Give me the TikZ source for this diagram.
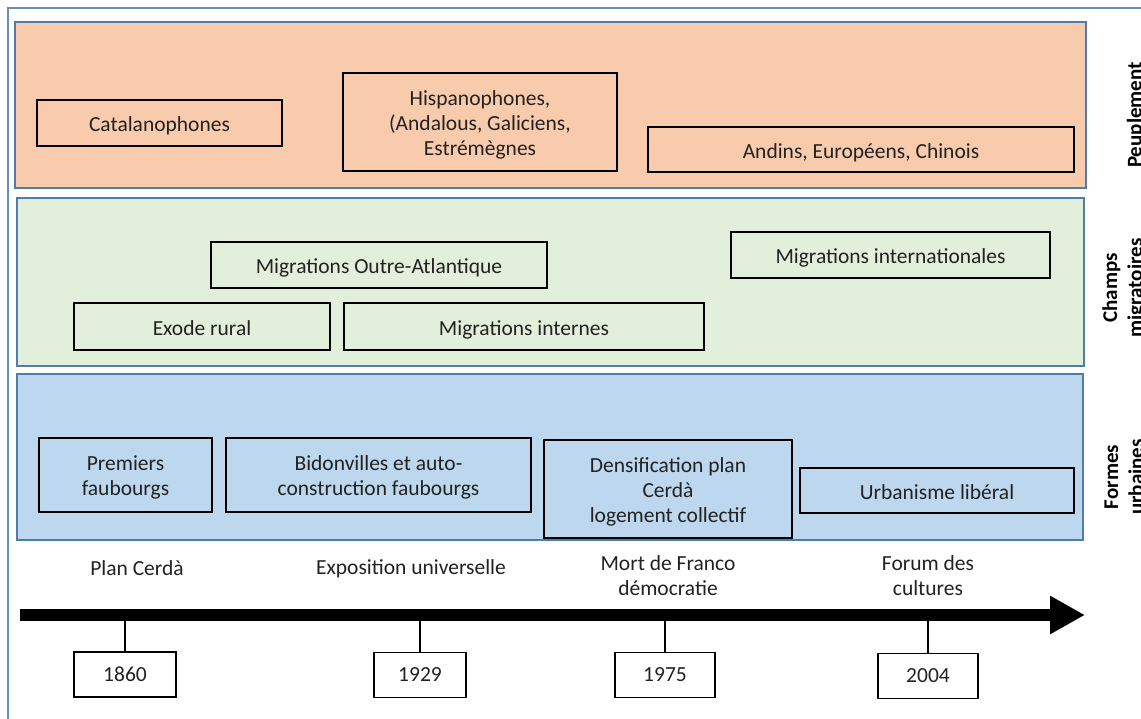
\documentclass[tikz,border=0pt]{standalone}
\usepackage{fontspec}
\setmainfont{Carlito}
\usetikzlibrary{arrows.meta}
\definecolor{framebl}{HTML}{6A8DBA}
\definecolor{bandbd}{HTML}{4F7BAE}
\definecolor{orfill}{HTML}{F8CBAD}
\definecolor{grfill}{HTML}{E2EFDA}
\definecolor{blfill}{HTML}{BDD7EE}
\definecolor{txt}{HTML}{222222}
\newcommand\topstrut{\rule{0pt}{20pt}}
\tikzset{
  band/.style={draw=bandbd, line width=1.6pt},
  itembox/.style={draw=black, line width=2pt, inner sep=0pt, align=center,
    text=txt, font=\fontsize{21.5}{25}\selectfont},
  onebox/.style={itembox, text height=17.5pt, text depth=0pt},
  yearbox/.style={draw=black, line width=1.8pt, inner sep=0pt, minimum height=45pt,
    text=txt, font=\fontsize{21.5}{25}\selectfont},
  evlabel/.style={inner sep=0pt, align=center, text=txt, font=\fontsize{21.5}{25}\selectfont},
  sidelabel/.style={inner sep=0pt, align=center, rotate=90, text=black,
    font=\fontsize{21}{25}\selectfont\bfseries},
  tickline/.style={draw=black, line width=1.8pt}
}
\begin{document}
\begin{tikzpicture}[x=1pt,y=-1pt]
\useasboundingbox (0,0) rectangle (1141,718);
\fill[white] (0,0) rectangle (1141,718);
% outer frame
\draw[framebl, line width=2pt] (1145,8) -- (8,8) -- (8,722);
% bands
\draw[band, fill=orfill] (15,22) rectangle (1086,188);
\draw[band, fill=grfill] (17,198) rectangle (1084,366);
\draw[band, fill=blfill] (17,374) rectangle (1083,540);
% Peuplement
\node[onebox, minimum width=245pt, minimum height=46pt] (cat) at (159.5,123) {Catalanophones};
\node[itembox, minimum width=274pt, minimum height=98pt] (hisp) at (480,122) {\topstrut Hispanophones,\\(Andalous, Galiciens,\\Estrémègnes};
\node[onebox, minimum width=426pt, minimum height=45pt] (andins) at (861,149.5) {Andins, Européens, Chinois};
% Champs migratoires
\node[onebox, minimum width=336pt, minimum height=46pt] (outre) at (379,265) {Migrations Outre-Atlantique};
\node[onebox, minimum width=256pt, minimum height=47pt] (exode) at (202,326.5) {Exode rural};
\node[onebox, minimum width=360pt, minimum height=47pt] (internes) at (524,326.5) {Migrations internes};
\node[onebox, minimum width=319pt, minimum height=46pt] (intl) at (890.5,255) {Migrations internationales};
% Formes urbaines
\node[itembox, minimum width=173pt, minimum height=74pt] (prem) at (125.5,475) {\topstrut Premiers\\faubourgs};
\node[itembox, minimum width=305pt, minimum height=74pt] (bidon) at (378.5,475) {\topstrut Bidonvilles et auto-\\construction faubourgs};
\node[itembox, minimum width=248pt, minimum height=98pt] (dens) at (668,489) {\topstrut Densification plan\\Cerdà\\logement collectif};
\node[onebox, minimum width=274pt, minimum height=45pt] (urb) at (937,490.5) {Urbanisme libéral};
% side labels
\node[sidelabel] (lpeup) at (1136,115) {Peuplement};
\node[sidelabel] (lchamps) at (1124,288) {Champs\\migratoires};
\node[sidelabel] (lformes) at (1124,477) {Formes\\urbaines};
% events
\node[evlabel] (ev1) at (137,568) {Plan Cerdà};
\node[evlabel] (ev2) at (411,569) {Exposition universelle};
\node[evlabel] (ev3) at (668,575.5) {Mort de Franco\\démocratie};
\node[evlabel] (ev4) at (928,575.5) {Forum des\\cultures};
% timeline
\coordinate (tstart) at (20,615);
\coordinate (tend) at (1085,615);
\draw[line width=12pt, -{Triangle[length=35pt,width=36pt]}] (tstart) -- (tend);
% years
\node[yearbox, minimum width=102pt] (y1860) at (125,674.5) {1860};
\node[yearbox, minimum width=92pt] (y1929) at (420,675) {1929};
\node[yearbox, minimum width=100pt] (y1975) at (665,675) {1975};
\node[yearbox, minimum width=100pt] (y2004) at (928,676) {2004};
% ticks
\draw[tickline] (y1860.north) -- (y1860.north |- tstart);
\draw[tickline] (y1929.north) -- (y1929.north |- tstart);
\draw[tickline] (y1975.north) -- (y1975.north |- tstart);
\draw[tickline] (y2004.north) -- (y2004.north |- tstart);
\end{tikzpicture}
\end{document}
